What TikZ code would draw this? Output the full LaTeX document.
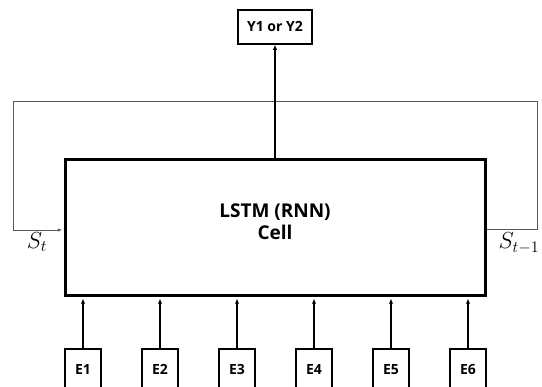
\documentclass[tikz,border=0pt]{standalone}
\usepackage{fontspec}
\setsansfont{Open Sans}
\usetikzlibrary{arrows.meta}

\begin{document}
\begin{tikzpicture}[
  x=1pt, y=-1pt,
  font=\sffamily\bfseries\fontsize{14}{17}\selectfont,
  cellbox/.style={draw, line width=3.2pt, minimum width=420pt, minimum height=136pt, inner sep=0pt},
  celltext/.style={font=\sffamily\bfseries\fontsize{19}{22}\selectfont, align=center, inner sep=0pt},
  outbox/.style={draw, line width=1.6pt, minimum width=74pt, minimum height=34pt, inner sep=0pt},
  embbox/.style={draw, line width=1.2pt, minimum width=36pt, minimum height=41pt, inner sep=0pt},
  arr/.style={-{Latex[length=5pt,width=4.5pt]}, line width=1.5pt},
  fbline/.style={draw=black!65, line width=0.9pt},
  statelbl/.style={font=\fontsize{20.74}{24}\selectfont, inner sep=0pt, scale=1.12, transform shape}
]
\useasboundingbox (0,0) rectangle (542,387);

\node[cellbox] (cell) at (275.5,227.5) {};
\node[celltext] (celllbl) at (275,222) {LSTM (RNN)\\Cell};
\node[outbox] (out) at (275,27) {Y1 or Y2};

\node[embbox] (e1) at (83,369.5) {E1};
\node[embbox] (e2) at (160,369.5) {E2};
\node[embbox] (e3) at (237,369.5) {E3};
\node[embbox] (e4) at (314,369.5) {E4};
\node[embbox] (e5) at (391,369.5) {E5};
\node[embbox] (e6) at (468,369.5) {E6};

% recurrent state loop
\coordinate (fbout) at (537,229);
\coordinate (tr) at (537,101);
\coordinate (tl) at (13,101);
\coordinate (fbin) at (13,230);
\draw[fbline] (cell.east |- fbout) -- (fbout) -- (tr) -- (tl) -- (fbin);
\draw[fbline, -{Latex[length=4.5pt,width=3.5pt]}, shorten >=1.6pt] (fbin) -- (cell.west |- fbin);

\node[statelbl] (st) at (37,242) {$S_t$};
\node[statelbl] (stm) at (519,243) {$S_{t-1}$};

\draw[arr] (out.south |- cell.north) -- (out.south);

\draw[arr, shorten >=1.6pt] (e1.north) -- (e1.north |- cell.south);
\draw[arr, shorten >=1.6pt] (e2.north) -- (e2.north |- cell.south);
\draw[arr, shorten >=1.6pt] (e3.north) -- (e3.north |- cell.south);
\draw[arr, shorten >=1.6pt] (e4.north) -- (e4.north |- cell.south);
\draw[arr, shorten >=1.6pt] (e5.north) -- (e5.north |- cell.south);
\draw[arr, shorten >=1.6pt] (e6.north) -- (e6.north |- cell.south);

\end{tikzpicture}
\end{document}
